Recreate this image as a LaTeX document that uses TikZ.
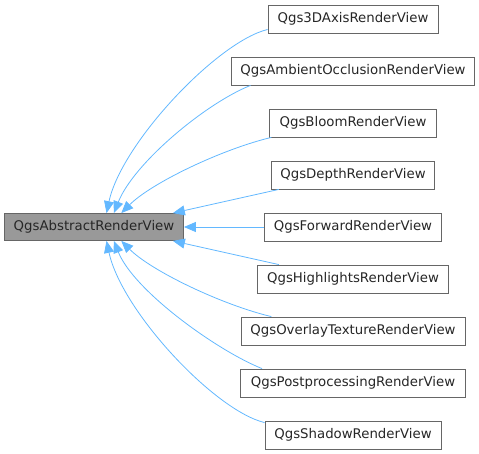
\documentclass[tikz,border=0pt]{standalone}
\usepackage{fontspec}
\setmainfont{DejaVu Sans}
\usetikzlibrary{arrows.meta}
\definecolor{edgeblue}{HTML}{63B8FF}
\definecolor{boxgray}{HTML}{666666}
\definecolor{basefill}{HTML}{999999}

\begin{document}
\begin{tikzpicture}[x=1pt,y=-1pt,font=\fontsize{13.3}{16}\selectfont,
    cls/.style={draw=boxgray,line width=0.8pt,minimum height=28pt,inner sep=2pt,text=black!85},
    edge/.style={draw=edgeblue,line width=0.8pt,{Triangle[length=12pt,width=10pt]}-}]
  \useasboundingbox (0,0) rectangle (479,454);
  % base class
  \node[cls,fill=basefill,minimum width=179pt,minimum height=27pt] (abs) at (94,227) {QgsAbstractRenderView};
  % derived classes
  \node[cls,minimum width=170pt] (axis)  at (353,19)  {Qgs3DAxisRenderView};
  \node[cls,minimum width=243pt] (ao)    at (353,71)  {QgsAmbientOcclusionRenderView};
  \node[cls,minimum width=167pt] (bloom) at (353,123) {QgsBloomRenderView};
  \node[cls,minimum width=163pt] (depth) at (353,175) {QgsDepthRenderView};
  \node[cls,minimum width=177pt] (fwd)   at (353,227) {QgsForwardRenderView};
  \node[cls,minimum width=191pt] (hl)    at (353,279) {QgsHighlightsRenderView};
  \node[cls,minimum width=224pt] (ov)    at (353,331) {QgsOverlayTextureRenderView};
  \node[cls,minimum width=225pt] (pp)    at (353,383) {QgsPostprocessingRenderView};
  \node[cls,minimum width=176pt] (sh)    at (353,435) {QgsShadowRenderView};
  % inheritance edges
  \draw[edge] (abs.48) .. controls +(15,-70) and +(-50,12) .. (axis.187);
  \draw[edge] (abs.35) .. controls +(20,-50) and +(-45,18) .. (ao.188);
  \draw[edge] (abs.27) .. controls +(30,-30) and +(-50,12) .. (bloom.190);
  \draw[edge] (abs.10) -- (depth.191);
  \draw[edge] (abs.east) -- (fwd.west);
  \draw[edge] (abs.-10) -- (hl.169);
  \draw[edge] (abs.-27) .. controls +(30,30) and +(-50,-12) .. (ov.170);
  \draw[edge] (abs.-35) .. controls +(20,50) and +(-45,-18) .. (pp.171);
  \draw[edge] (abs.-48) .. controls +(15,70) and +(-50,-12) .. (sh.172);
\end{tikzpicture}
\end{document}
